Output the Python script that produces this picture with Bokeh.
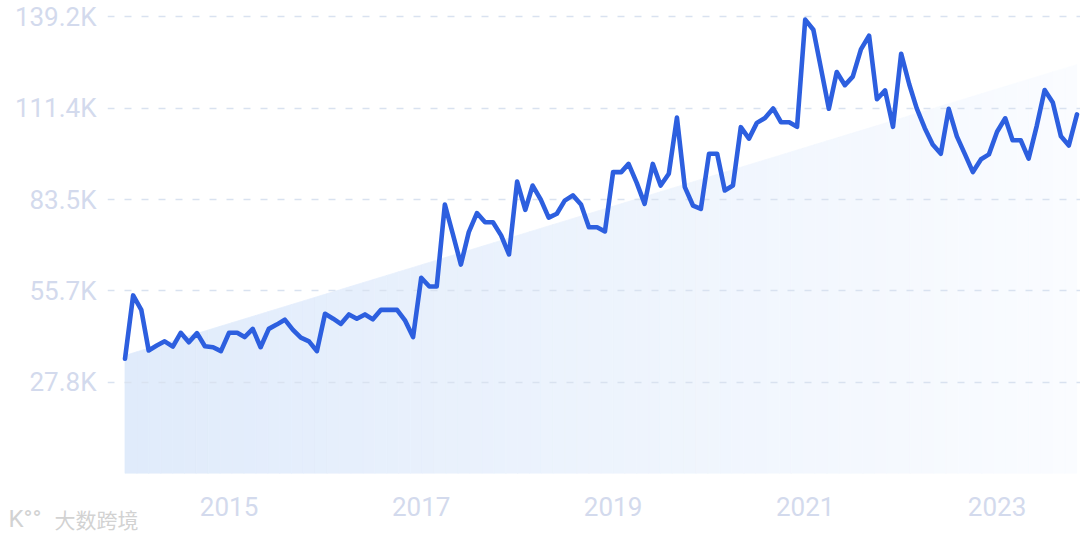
import pandas as pd
from bokeh.plotting import figure
from bokeh.models import FixedTicker, Label, DatetimeTickFormatter
from bokeh.embed import file_html
from bokeh.resources import INLINE

# ---- data (values in thousands) ----
start_month = "2013-12-01"
values = [35.0, 54.3, 49.9, 37.5, 39.0, 40.3, 38.7, 42.9, 40.0, 42.8,
          38.8, 38.5, 37.3, 42.9, 42.9, 41.6, 44.1, 38.5, 44.1, 45.4,
          46.9, 43.8, 41.4, 40.3, 37.3, 48.7, 47.2, 45.6, 48.5, 47.2,
          48.5, 47.0, 49.9, 49.9, 49.9, 46.6, 41.6, 59.7, 57.0, 57.0,
          82.0, 73.1, 63.7, 73.6, 79.4, 76.6, 76.6, 72.6, 66.8, 89.0,
          80.4, 87.8, 83.5, 78.0, 79.2, 83.2, 84.8, 82.0, 75.1, 75.1,
          73.8, 91.9, 91.9, 94.4, 88.6, 82.2, 94.4, 87.8, 91.4, 108.5,
          87.3, 81.7, 80.7, 97.5, 97.5, 86.3, 87.8, 105.6, 102.1, 106.9,
          108.4, 111.3, 107.1, 107.1, 105.7, 138.4, 135.3, 123.9, 111.2, 122.4,
          118.4, 121.0, 129.3, 133.5, 114.1, 116.8, 105.7, 128.0, 118.6, 111.4,
          105.3, 100.3, 97.5, 111.2, 102.8, 97.3, 91.9, 95.8, 97.3, 104.2,
          108.3, 101.6, 101.6, 96.0, 106.0, 116.9, 113.1, 102.8, 100.0, 109.5]
trend = [36.0, 124.7]          # trend line value at first / last month
y_ticks = [27.84, 55.68, 83.52, 111.36, 139.2]
y_tick_labels = ["27.8K", "55.7K", "83.5K", "111.4K", "139.2K"]
x_tick_years = ["2015", "2017", "2019", "2021", "2023"]
watermark = ["K°°", "大数跨境"]

dates = pd.date_range(start_month, periods=len(values), freq="MS")
xs_ms = [d.value / 1e6 for d in dates]
DAY = 86400000.0
x_start = xs_ms[0] - 66.6 * DAY
x_end = x_start + 3702 * DAY

p = figure(width=1080, height=539, output_backend="svg", toolbar_location=None,
           x_axis_type="datetime",
           x_range=(x_start, x_end),
           y_range=(0, 140.56),
           min_border_left=107, min_border_right=0, min_border_top=12,
           min_border_bottom=66)
p.outline_line_color = None
p.background_fill_color = "white"
p.border_fill_color = "white"

# ---- gradient trend area (sliced) ----
n = 80
x0, x1 = xs_ms[0], xs_ms[-1]
t0, t1 = trend
c0 = (224, 235, 251)
c1 = (250, 252, 255)
pxs, pys, cols = [], [], []
for i in range(n):
    fa, fb = i / n, (i + 1) / n
    xa, xb = x0 + (x1 - x0) * fa, x0 + (x1 - x0) * fb
    ta, tb = t0 + (t1 - t0) * fa, t0 + (t1 - t0) * fb
    pxs.append([xa, xa, xb, xb])
    pys.append([0, ta, tb, 0])
    fm = (fa + fb) / 2
    c = tuple(int(round(c0[k] + (c1[k] - c0[k]) * fm)) for k in range(3))
    cols.append("#%02x%02x%02x" % c)
area = p.patches(pxs, pys, fill_color=cols, line_color=cols, line_width=0.8)
area.level = "image"

# ---- line ----
p.line(xs_ms, values, line_color="#2d5fdf", line_width=4.6, line_join="round",
       line_cap="round")

# ---- axes ----
label_color = "#d3daed"
font = "Roboto"

p.yaxis.ticker = FixedTicker(ticks=y_ticks)
p.yaxis.major_label_overrides = {t: l for t, l in zip(y_ticks, y_tick_labels)}
p.yaxis.axis_line_color = None
p.yaxis.major_tick_line_color = None
p.yaxis.minor_tick_line_color = None
p.yaxis.major_label_text_color = label_color
p.yaxis.major_label_text_font = font
p.yaxis.major_label_text_font_size = "26px"
p.yaxis.major_label_standoff = 5

year_ticks = [pd.Timestamp(f"{y}-01-01").value / 1e6 for y in x_tick_years]
p.xaxis.ticker = FixedTicker(ticks=year_ticks)
p.xaxis.formatter = DatetimeTickFormatter(years="%Y", months="%Y", days="%Y")
p.xaxis.axis_line_color = None
p.xaxis.major_tick_line_color = None
p.xaxis.minor_tick_line_color = None
p.xaxis.major_label_text_color = label_color
p.xaxis.major_label_text_font = font
p.xaxis.major_label_text_font_size = "26px"
p.xaxis.major_label_standoff = -41

p.xgrid.grid_line_color = None
p.ygrid.grid_line_color = "#d9e2f0"
p.ygrid.grid_line_width = 1.5
p.ygrid.grid_line_dash = "7 10"

# ---- watermark (placed in the bottom side panel, outside the frame) ----
wm_logo = Label(x=x_start, y=0, x_units="data", y_units="data",
                x_offset=-99, y_offset=-45,
                text=watermark[0], text_font="Roboto", text_font_size="24px",
                text_color="#d2d2d2", text_baseline="middle", text_align="left")
wm_text = Label(x=x_start, y=0, x_units="data", y_units="data",
                x_offset=-53, y_offset=-45,
                text=watermark[1], text_font="Noto Sans CJK SC",
                text_font_size="21px", text_color="#d2d2d2",
                text_baseline="middle", text_align="left")
p.below = [wm_logo, wm_text] + list(p.below)

open("out.html", "w").write(file_html(p, INLINE))
